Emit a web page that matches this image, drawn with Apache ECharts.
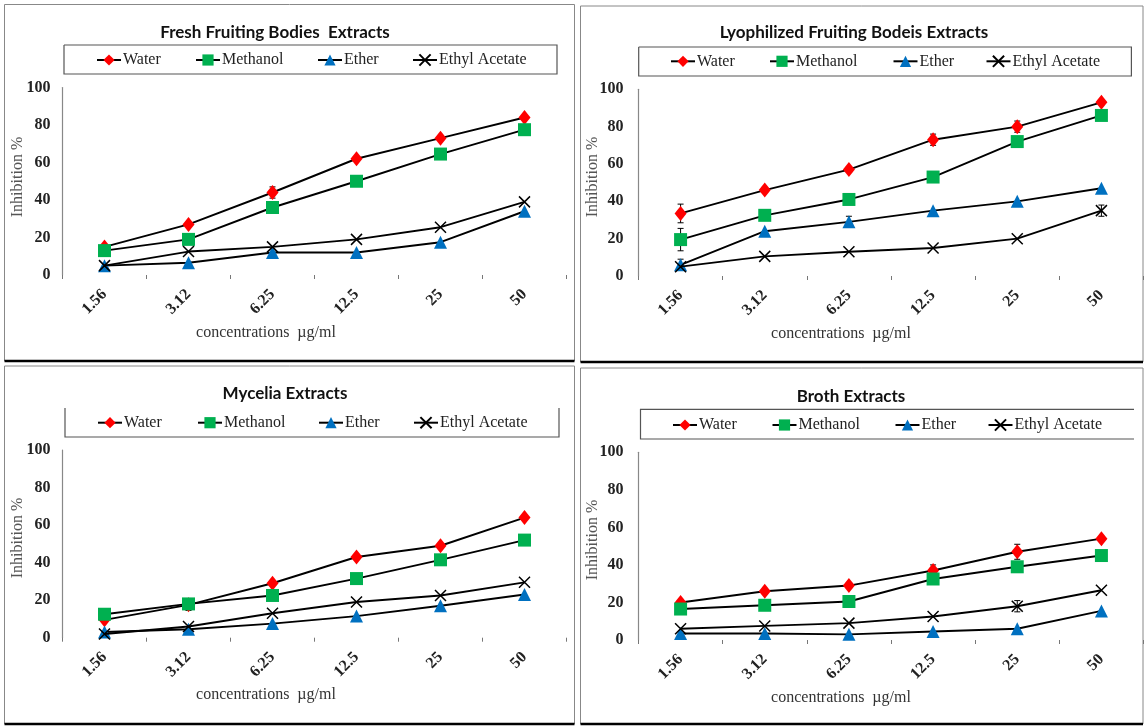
<!DOCTYPE html>
<html><head><meta charset="utf-8">
<script src="https://cdn.jsdelivr.net/npm/echarts@6/dist/echarts.min.js"></script>
<style>html,body{margin:0;padding:0;background:#fff}#c{width:1146px;height:726px}</style>
</head><body><div id="c"></div>
<script>
// ---------- DATA ----------
const categories = ['1.56', '3.12', '6.25', '12.5', '25', '50'];
const seriesNames = ['Water', 'Methanol', 'Ether', 'Ethyl Acetate'];
const panelTitles = ['Fresh Fruiting Bodies  Extracts', 'Lyophilized Fruiting Bodeis Extracts', 'Mycelia Extracts', 'Broth Extracts'];
const yAxisTitle = 'Inhibition %';
const xAxisTitle = 'concentrations  \u00b5g/ml';

const freshWater    = [15, 27, 44, 62, 73, 84];
const freshMethanol = [13, 19, 36, 50, 64.5, 77.5];
const freshEther    = [5, 6.5, 12, 12, 17.5, 34];
const freshEthyl    = [5, 12.5, 15, 19, 25.5, 39];
const freshWaterErr = [1, 0, 3, 0, 0, 0];

const lyoWater    = [33.5, 46, 57, 73, 80, 93];
const lyoMethanol = [19.5, 32.5, 41, 53, 72, 86];
const lyoEther    = [6, 24, 29, 35, 40, 47];
const lyoEthyl    = [5, 10.5, 13, 15, 20, 35];
const lyoWaterErr    = [5, 0, 0, 3, 3, 0];
const lyoMethanolErr = [6, 0, 0, 2, 0, 0];
const lyoEtherErr    = [3, 0, 3, 0, 0, 0];
const lyoEthylErr    = [0, 0, 0, 0, 0, 3];

const myWater    = [9.5, 17.5, 29, 43, 49, 64];
const myMethanol = [12.5, 18, 22.5, 31.5, 41.5, 52];
const myEther    = [3, 4.5, 7.5, 11.5, 17, 23];
const myEthyl    = [2, 6, 13, 19, 22.5, 29.5];
const myWaterErr = [0, 3, 0, 0, 0, 0];

const brothWater    = [20, 26, 29, 37, 47, 54];
const brothMethanol = [16.5, 18.5, 20.5, 32.5, 39, 45];
const brothEther    = [3.5, 3.5, 3, 4.5, 6, 15.5];
const brothEthyl    = [6, 7.5, 9, 12.5, 18, 26.5];
const brothWaterErr = [0, 0, 0, 3, 4, 0];
const brothEthylErr = [0, 0, 0, 0, 3, 0];

const yMin = 0, yMax = 100, yStep = 20;

const panelData = [
  { values: [freshWater, freshMethanol, freshEther, freshEthyl], errors: [freshWaterErr, null, null, null] },
  { values: [lyoWater, lyoMethanol, lyoEther, lyoEthyl], errors: [lyoWaterErr, lyoMethanolErr, lyoEtherErr, lyoEthylErr] },
  { values: [myWater, myMethanol, myEther, myEthyl], errors: [myWaterErr, null, null, null] },
  { values: [brothWater, brothMethanol, brothEther, brothEthyl], errors: [brothWaterErr, null, null, brothEthylErr] }
];

// ---------- LAYOUT / STYLE ----------
const layouts = [
  { grid: { left: 62.5, top: 87.5, width: 504, height: 187.5 }, title: [275, 32], legendY: 60, legendX: [96, 195, 317, 412], box: [64, 45, 557, 74], sides: 'all', xName: [266, 333], yName: [18, 177], border: [4.5, 4.5, 574.5, 361], labelMargin: 12 },
  { grid: { left: 638.5, top: 89.3, width: 505, height: 186.7 }, title: [854, 32.3], legendY: 61.3, legendX: [670, 769, 892.5, 985.5], box: [638.7, 47, 1131.4, 76], sides: 'all', xName: [841, 333.3], yName: [593, 177], border: [580.5, 6, 1143, 362], labelMargin: 15 },
  { grid: { left: 62.5, top: 450, width: 504, height: 187.7 }, title: [285, 393.3], legendY: 422.7, legendX: [97, 197, 318, 413], box: [65, 408, 559, 437], sides: 'noTop', xName: [266, 695], yName: [18, 538], border: [4.5, 366, 574.5, 724], labelMargin: 12 },
  { grid: { left: 638.5, top: 452.3, width: 505, height: 187.7 }, title: [851, 395.7], legendY: 425, legendX: [672, 771.5, 894.5, 987.5], box: [640.5, 409.3, 1134, 439], sides: 'noRight', xName: [841, 697.7], yName: [593, 540], border: [580.5, 368, 1143, 724], labelMargin: 15 }
];

const serif = 'Liberation Serif';
const markerStyles = [
  { symbol: 'diamond', symbolSize: [12, 15], itemStyle: { color: '#ff0000' } },
  { symbol: 'rect', symbolSize: 13, itemStyle: { color: '#00b050' } },
  { symbol: 'triangle', symbolSize: 13, itemStyle: { color: '#0070c0' } },
  { symbol: 'path://M0,0L10,10M10,0L0,10', symbolSize: 11, itemStyle: { color: 'rgba(0,0,0,0)', borderColor: '#000', borderWidth: 1.5 } }
];

const option = { animation: false, backgroundColor: '#fff', grid: [], xAxis: [], yAxis: [], series: [], title: [], legend: [], graphic: [] };

layouts.forEach((L, p) => {
  option.grid.push(Object.assign({ containLabel: false }, L.grid));
  option.xAxis.push({
    type: 'category', gridIndex: p, data: categories, boundaryGap: true,
    axisLine: { show: false },
    axisTick: { show: true, length: 4, lineStyle: { color: '#777' } },
    axisLabel: { rotate: 45, margin: 17, fontFamily: serif, fontWeight: 'bold', fontSize: 16, color: '#222' },
    splitLine: { show: false }
  });
  option.yAxis.push({
    type: 'value', gridIndex: p, min: yMin, max: yMax, interval: yStep,
    axisLine: { show: true, lineStyle: { color: '#888', width: 1.2 } },
    axisTick: { show: false },
    axisLabel: { margin: L.labelMargin, fontFamily: serif, fontWeight: 'bold', fontSize: 16, color: '#222' },
    splitLine: { show: false }
  });
  option.title.push({
    text: panelTitles[p], left: L.title[0], top: L.title[1] - 8, textAlign: 'center', padding: 0,
    textStyle: { fontFamily: 'Lato', fontWeight: 'bold', fontSize: 17, color: '#111' }
  });
  const D = panelData[p];
  seriesNames.forEach((name, s) => {
    const m = markerStyles[s];
    option.series.push({
      type: 'line', name: name, xAxisIndex: p, yAxisIndex: p, data: D.values[s],
      symbol: m.symbol, symbolSize: m.symbolSize, itemStyle: m.itemStyle,
      lineStyle: { color: '#000', width: 1.9 }, z: 3 + s
    });
    const err = D.errors[s];
    if (err) {
      option.series.push({
        type: 'custom', xAxisIndex: p, yAxisIndex: p, z: 2, silent: true,
        data: D.values[s].map((v, i) => [i, v, err[i]]).filter(d => d[2] > 0),
        renderItem: function (params, api) {
          const x = api.value(0), v = api.value(1), e = api.value(2);
          const top = api.coord([x, v + e]), bot = api.coord([x, v - e]);
          const st = { stroke: '#000', lineWidth: 1 };
          return { type: 'group', children: [
            { type: 'line', shape: { x1: top[0], y1: top[1], x2: bot[0], y2: bot[1] }, style: st },
            { type: 'line', shape: { x1: top[0] - 3, y1: top[1], x2: top[0] + 3, y2: top[1] }, style: st },
            { type: 'line', shape: { x1: bot[0] - 3, y1: bot[1], x2: bot[0] + 3, y2: bot[1] }, style: st }
          ] };
        }
      });
    }
    option.legend.push({
      data: [name], left: L.legendX[s], top: L.legendY - 8, padding: 0, itemGap: 0,
      itemWidth: 24, itemHeight: 14, selectedMode: false,
      textStyle: { fontFamily: serif, fontSize: 16, color: '#222', padding: [0, 0, 0, -3] }
    });
  });
  // x axis title
  option.graphic.push({
    type: 'text', silent: true, x: L.xName[0], y: L.xName[1],
    style: { text: xAxisTitle, fontFamily: serif, fontSize: 16, fill: '#333', textAlign: 'center', textVerticalAlign: 'middle' }
  });
  // y axis title
  option.graphic.push({
    type: 'text', silent: true, x: L.yName[0], y: L.yName[1], rotation: Math.PI / 2,
    style: { text: yAxisTitle, fontFamily: serif, fontSize: 16, fill: '#555', textAlign: 'center', textVerticalAlign: 'middle' }
  });
  // legend box
  const [bx1, by1, bx2, by2] = L.box;
  let pts;
  if (L.sides === 'noTop') pts = [[bx1, by1], [bx1, by2], [bx2, by2], [bx2, by1]];
  else if (L.sides === 'noRight') pts = [[bx2, by1], [bx1, by1], [bx1, by2], [bx2, by2]];
  else pts = [[bx1, by1], [bx2, by1], [bx2, by2], [bx1, by2], [bx1, by1]];
  option.graphic.push({ type: 'polyline', silent: true, shape: { points: pts }, style: { stroke: '#555', lineWidth: 1.2, fill: null } });
  // panel border
  const [px1, py1, px2, py2] = L.border;
  option.graphic.push({ type: 'polyline', silent: true, shape: { points: [[px1, py2], [px1, py1], [px2, py1], [px2, py2]] }, style: { stroke: '#888', lineWidth: 1, fill: null } });
  option.graphic.push({ type: 'line', silent: true, shape: { x1: px1, y1: py2, x2: px2, y2: py2 }, style: { stroke: '#000', lineWidth: 2.5 } });
});

const chart = echarts.init(document.getElementById('c'), null, { renderer: 'canvas' });
chart.setOption(option);
</script>
</body></html>
